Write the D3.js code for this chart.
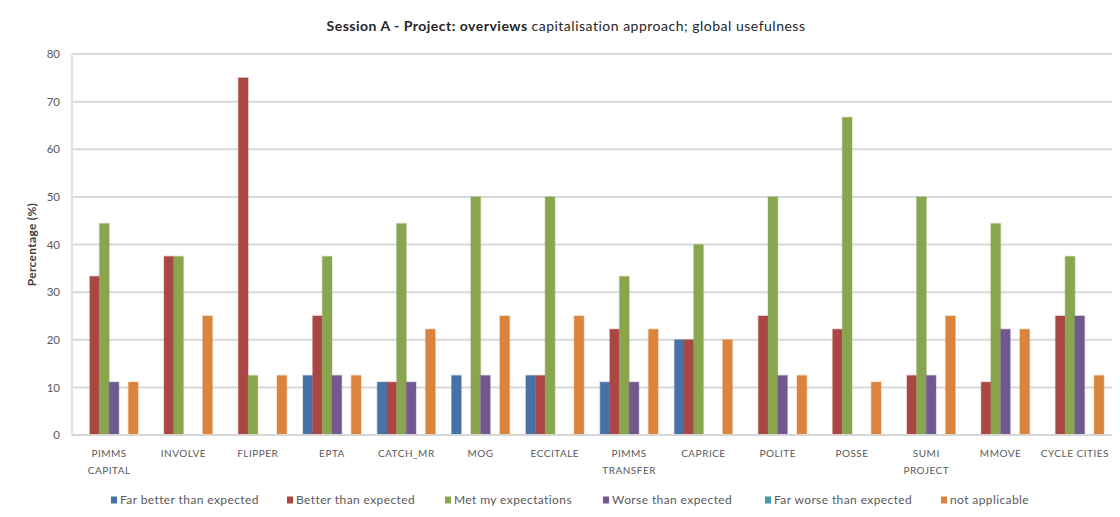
<!DOCTYPE html>
<html>
<head>
<meta charset="utf-8">
<script src="https://cdn.jsdelivr.net/npm/d3@7"></script>
<style>
  html, body { margin: 0; padding: 0; background: #fff; }
  svg { display: block; font-family: Lato, "Open Sans", sans-serif; }
</style>
</head>
<body>
<svg id="chart" width="1120" height="517"></svg>
<script>
// Projects along the x axis (multi-line labels split on "\n")
const categories = [
  "PIMMS\nCAPITAL", "INVOLVE", "FLIPPER", "EPTA", "CATCH_MR", "MOG", "ECCITALE",
  "PIMMS\nTRANSFER", "CAPRICE", "POLITE", "POSSE", "SUMI\nPROJECT", "MMOVE", "CYCLE CITIES"
];

const seriesNames = [
  "Far better than  expected", "Better than expected", "Met my expectations",
  "Worse than expected", "Far worse than expected", "not applicable"
];

const seriesColors = ["#4572A7", "#AA4643", "#89A54E", "#71588F", "#4198AF", "#DB843D"];

// Percentages per project, one array per rating
const farBetter  = [0, 0, 0, 12.5, 11.1, 12.5, 12.5, 11.1, 20, 0, 0, 0, 0, 0];
const better     = [33.3, 37.5, 75, 25, 11.1, 0, 12.5, 22.2, 20, 25, 22.2, 12.5, 11.1, 25];
const metExpect  = [44.4, 37.5, 12.5, 37.5, 44.4, 50, 50, 33.3, 40, 50, 66.7, 50, 44.4, 37.5];
const worse      = [11.1, 0, 0, 12.5, 11.1, 12.5, 0, 11.1, 0, 12.5, 0, 12.5, 22.2, 25];
const farWorse   = [0, 0, 0, 0, 0, 0, 0, 0, 0, 0, 0, 0, 0, 0];
const notApplic  = [11.1, 25, 12.5, 12.5, 22.2, 25, 25, 22.2, 20, 12.5, 11.1, 25, 22.2, 12.5];

const seriesValues = [farBetter, better, metExpect, worse, farWorse, notApplic];
const yTicks = [0, 10, 20, 30, 40, 50, 60, 70, 80];

const svg = d3.select("#chart");
const plot = { left: 72, right: 1112, top: 54, bottom: 435 };

const x = d3.scaleBand()
  .domain(categories)
  .range([plot.left, plot.right])
  .paddingInner(0.22)
  .paddingOuter(0.11);

const xs = d3.scaleBand()
  .domain(d3.range(seriesNames.length))
  .range([0, x.bandwidth()])
  .padding(0);

const y = d3.scaleLinear().domain([0, 80]).range([plot.bottom, plot.top]);

// Horizontal gridlines
svg.append("g")
  .selectAll("line")
  .data(yTicks.filter(d => d > 0))
  .join("line")
  .attr("x1", plot.left)
  .attr("x2", plot.right)
  .attr("y1", d => y(d))
  .attr("y2", d => y(d))
  .attr("stroke", "#d9d9d9")
  .attr("stroke-width", 2);

// Bars
const groups = svg.append("g")
  .selectAll("g")
  .data(categories)
  .join("g")
  .attr("transform", d => `translate(${x(d)},0)`);

groups.selectAll("rect")
  .data((c, ci) => seriesValues.map((vals, si) => ({ si, v: vals[ci] })).filter(d => d.v > 0))
  .join("rect")
  .attr("x", d => xs(d.si))
  .attr("width", xs.bandwidth())
  .attr("y", d => y(d.v))
  .attr("height", d => y(0) - y(d.v))
  .attr("fill", d => seriesColors[d.si])
  .attr("stroke", d => seriesColors[d.si])
  .attr("stroke-opacity", 0.3)
  .attr("stroke-width", 1.5);

// Axis lines
svg.append("line")
  .attr("x1", plot.left).attr("x2", plot.right)
  .attr("y1", y(0)).attr("y2", y(0))
  .attr("stroke", "#d6d6d6").attr("stroke-width", 2);
svg.append("line")
  .attr("x1", plot.left).attr("x2", plot.left)
  .attr("y1", plot.top).attr("y2", plot.bottom)
  .attr("stroke", "#e2e2e2").attr("stroke-width", 2);

// Y axis tick labels
const yAxis = d3.axisLeft(y).tickValues(yTicks).tickSize(0).tickPadding(12);
const yg = svg.append("g").attr("transform", `translate(${plot.left},0)`).call(yAxis);
yg.select(".domain").remove();
yg.selectAll("text")
  .attr("fill", "#595959")
  .style("font-size", "11.5px")
  .style("font-family", "Lato, sans-serif");

// Y axis title
svg.append("text")
  .attr("transform", `translate(36,${(plot.top + plot.bottom) / 2}) rotate(-90)`)
  .attr("text-anchor", "middle")
  .attr("fill", "#404040")
  .style("font-size", "12px")
  .style("font-weight", "bold")
  .style("letter-spacing", "0.3px")
  .text("Percentage (%)");

// X axis labels
const xg = svg.append("g");
categories.forEach(c => {
  const lines = c.split("\n");
  const t = xg.append("text")
    .attr("x", x(c) + x.bandwidth() / 2)
    .attr("y", 457)
    .attr("text-anchor", "middle")
    .attr("fill", "#595959")
    .style("font-size", "10px")
    .style("letter-spacing", "0.5px");
  lines.forEach((ln, i) => {
    t.append("tspan")
      .attr("x", x(c) + x.bandwidth() / 2)
      .attr("dy", i === 0 ? 0 : 17)
      .text(ln);
  });
});

// Title
const title = svg.append("text")
  .attr("x", 566)
  .attr("y", 31)
  .attr("text-anchor", "middle")
  .attr("fill", "#262626")
  .style("font-size", "14px")
  .style("letter-spacing", "0.5px");
title.append("tspan").style("font-weight", "bold").text("Session A - Project: overviews ");
title.append("tspan").text("capitalisation approach; global usefulness");

// Legend
const legendX = [111, 287, 445, 603, 765, 941];
const legend = svg.append("g")
  .selectAll("g")
  .data(seriesNames)
  .join("g")
  .attr("transform", (d, i) => `translate(${legendX[i]},500)`);
legend.append("rect")
  .attr("x", 0).attr("y", -3.5)
  .attr("width", 6).attr("height", 7)
  .attr("fill", (d, i) => seriesColors[i]);
legend.append("text")
  .attr("x", 9)
  .attr("y", 4)
  .attr("fill", "#595959")
  .style("font-size", "12px")
  .style("letter-spacing", "0.4px")
  .text(d => d);
</script>
</body>
</html>
